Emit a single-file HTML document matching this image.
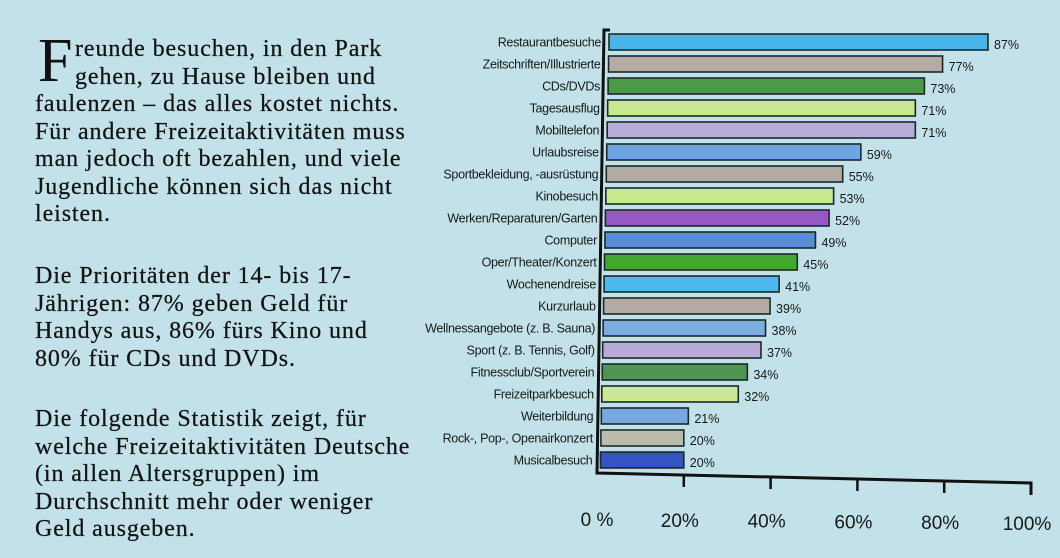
<!DOCTYPE html>
<html><head><meta charset="utf-8"><style>
html,body{margin:0;padding:0;}
body{width:1060px;height:558px;overflow:hidden;background:#c3e1e8;position:relative;font-family:"Liberation Serif",serif;}
.txt{position:absolute;left:35px;font-size:24px;line-height:27.5px;letter-spacing:0.9px;color:#111414;white-space:nowrap;-webkit-text-stroke:0.25px #111414;}
.cap{position:absolute;left:38px;top:31px;font-size:62px;line-height:60px;color:#111;}
svg{position:absolute;left:0;top:0;}
</style></head><body>
<div class="cap">F</div>
<div class="txt" style="top:36px;"><span style="padding-left:40px">reunde besuchen, in den Park</span><br><span style="padding-left:40px">gehen, zu Hause bleiben und</span><br>faulenzen – das alles kostet nichts.<br>Für andere Freizeitaktivitäten muss<br>man jedoch oft bezahlen, und viele<br>Jugendliche können sich das nicht<br>leisten.</div>
<div class="txt" style="top:263px;">Die Prioritäten der 14- bis 17-<br>Jährigen: 87% geben Geld für<br>Handys aus, 86% fürs Kino und<br>80% für CDs und DVDs.</div>
<div class="txt" style="top:406px;">Die folgende Statistik zeigt, für<br>welche Freizeitaktivitäten Deutsche<br>(in allen Altersgruppen) im<br>Durchschnitt mehr oder weniger<br>Geld ausgeben.</div>
<svg id="chart" width="1060" height="558"></svg>
<script>
const categories=["Restaurantbesuche","Zeitschriften/Illustrierte","CDs/DVDs","Tagesausflug","Mobiltelefon","Urlaubsreise","Sportbekleidung, -ausrüstung","Kinobesuch","Werken/Reparaturen/Garten","Computer","Oper/Theater/Konzert","Wochenendreise","Kurzurlaub","Wellnessangebote (z. B. Sauna)","Sport (z. B. Tennis, Golf)","Fitnessclub/Sportverein","Freizeitparkbesuch","Weiterbildung","Rock-, Pop-, Openairkonzert","Musicalbesuch"];
const values=[87,77,73,71,71,59,55,53,52,49,45,41,39,38,37,34,32,21,20,20];
const tickValues=[0,20,40,60,80,100];
const tickLabels=["0 %","20%","40%","60%","80%","100%"];
const colors=["#48b4ea","#b4aca4","#4a9a48","#c8e890","#b8acd8","#6ea4e2","#b4aca4","#c8e890","#9658c4","#5a8cd8","#40a830","#4cb8ee","#b4aca4","#7cace2","#baaad8","#4e9450","#cce894","#78a8e0","#bcbcaa","#3454c4"];
const NS="http://www.w3.org/2000/svg";
const svg=document.getElementById('chart');
const barX=(v)=>593+4.54*v;
const tickX=(v)=>597+4.34*v;
const axisY=(v)=>473+0.1*v;
const rowY=(i)=>34+i*22;
function el(t,a,txt){const e=document.createElementNS(NS,t);for(const k in a)e.setAttribute(k,a[k]);if(txt!=null)e.textContent=txt;svg.appendChild(e);return e;}
const axis=el('path',{d:'M610 30 L604 30 L597 '+axisY(0)+' L1031 '+axisY(100)+' L1031 '+(axisY(100)+12),fill:'none',stroke:'#111',"stroke-width":3});


values.forEach((v,i)=>{
  const y=rowY(i);
  const x0=609-i*0.45;
  const r=el('rect',{x:x0,y:y,width:barX(v)-x0,height:16,fill:colors[i],stroke:'#1a2a2a',"stroke-width":1.6});
  
  
  const l=el('text',{x:x0-8,y:y+12.5,"text-anchor":"end","font-family":"'Liberation Sans Narrow','Liberation Sans',sans-serif","font-size":12.5,fill:'#151a1a',"letter-spacing":"-0.3"},categories[i]);
  
  
  const t=el('text',{x:barX(v)+6,y:y+15,"font-family":"'Liberation Sans Narrow','Liberation Sans',sans-serif","font-size":12.5,fill:'#151a1a'},v+'%');
  
  
});
tickValues.forEach((v,i)=>{
  const x=tickX(v);
  if(i>0&&i<5){const tk=el('line',{x1:x,y1:axisY(v),x2:x,y2:axisY(v)+12,stroke:'#111',"stroke-width":2.5});
  
  }
  const tl=el('text',{x:x-4+(i===0?4:0),y:526+i*0.8,"text-anchor":"middle","font-family":"'Liberation Sans',sans-serif","font-size":19,fill:'#151a1a'},tickLabels[i]);
  
  
});
</script>
</body></html>
